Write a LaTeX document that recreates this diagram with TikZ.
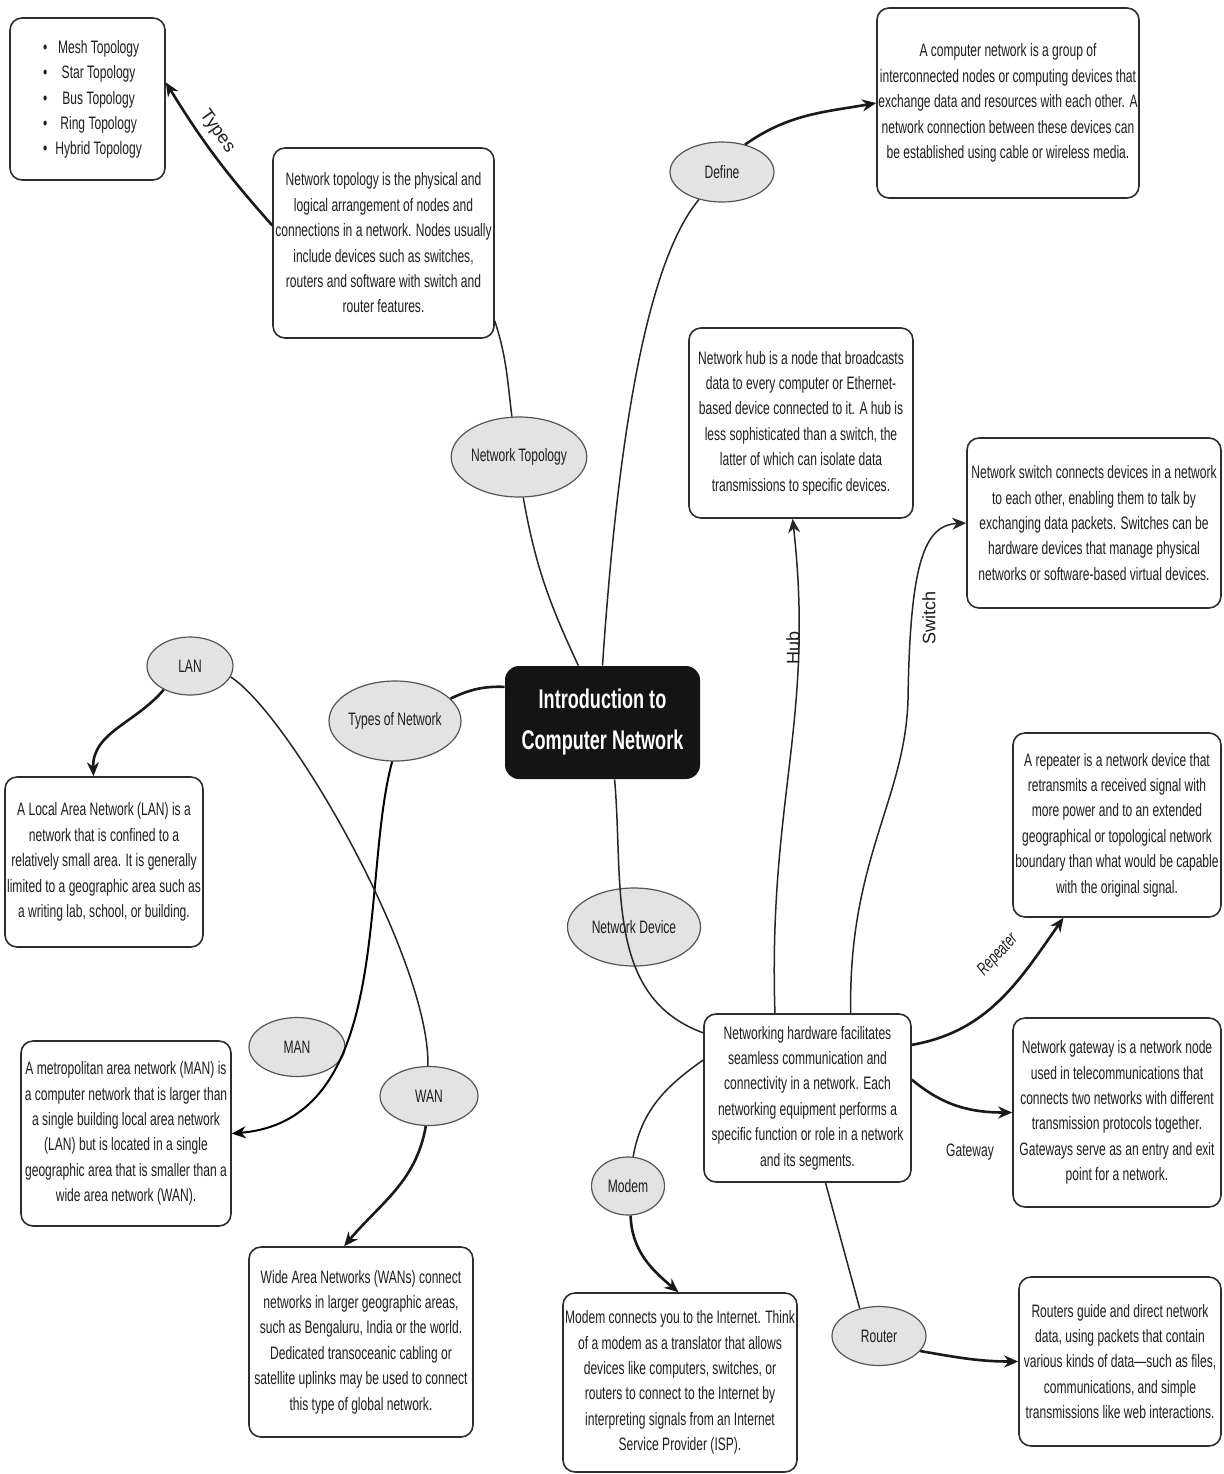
\documentclass[tikz,border=0pt]{standalone}
\usepackage{fontspec}
\setmainfont{Liberation Sans}[FakeStretch=0.67]
\newfontfamily\widefont{Liberation Sans}
\usetikzlibrary{arrows.meta, shapes.geometric}
\newcommand\boxfont{\fontsize{9pt}{12.7pt}\selectfont}
\newcommand\widelbl{\widefont\fontsize{9pt}{11pt}\selectfont}
\definecolor{ovalfill}{HTML}{E3E3E3}
\definecolor{ovalline}{HTML}{555555}
\definecolor{boxline}{HTML}{2E2E2E}
\definecolor{inktext}{HTML}{1E1E1E}

\begin{document}
\begin{tikzpicture}[x=0.5pt,y=0.5pt,
  box/.style={draw=boxline, line width=0.8pt, rounded corners=6pt, fill=white,
    align=center, inner sep=0pt, text=inktext, font=\boxfont},
  oval/.style={ellipse, draw=ovalline, line width=0.6pt, fill=ovalfill,
    inner sep=0pt, text=inktext, font=\boxfont},
  thinline/.style={line width=0.75pt, draw=black!85},
  thickline/.style={line width=1.3pt, draw=black!90},
  tip/.style={-{Stealth[length=7pt,width=6pt]}},
  lbl/.style={text=inktext, font=\boxfont}]
  \fill[white] (0,0) rectangle (1224,-1474);
  \useasboundingbox (0,0) rectangle (1224,-1474);

  \node[fill=black!92, rounded corners=7pt, minimum width=97.5pt, minimum height=56.5pt,
    inner sep=0pt, align=center, text=white, font=\fontsize{13.5pt}{20.5pt}\selectfont\bfseries]
    (root) at (602.5,-722.5) {Introduction to\\Computer Network};

  \foreach \n/\x/\y/\w/\h/\t in {define/722/172/52/30/Define,
      ntopo/519/457/65/40/Network Topology, tnet/395/721/66/40/Types of Network,
      lan/190/666/43/29/LAN, man/297/1047/48/29.5/MAN, wan/429/1096/49/29.5/WAN,
      ndev/634/927/66.5/39/Network Device, modem/628/1186/36.5/29/Modem,
      router/879/1336/47/29.5/Router}
    {\node[oval, minimum width=\w pt, minimum height=\h pt] (\n) at (\x,-\y) {\t};}

  \node[box, minimum width=77.5pt, minimum height=81pt] (tlist) at (87.5,-99)
    {\hspace*{5pt}\begin{tabular}{@{}c@{\hspace{4pt}}c@{}}
      \textbullet & Mesh Topology\\ \textbullet & Star Topology\\
      \textbullet & Bus Topology\\ \textbullet & Ring Topology\\
      \textbullet & Hybrid Topology\end{tabular}};
  \node[box, minimum width=110.5pt, minimum height=95pt] (tdesc) at (383.5,-243)
    {Network topology is the physical and\\ logical arrangement of nodes and\\
     connections in a network. Nodes usually\\ include devices such as switches,\\
     routers and software with switch and\\ router features.};
  \node[box, minimum width=131pt, minimum height=95pt] (ddesc) at (1008,-103)
    {A computer network is a group of\\ interconnected nodes or computing devices that\\
     exchange data and resources with each other. A\\ network connection between these devices can\\
     be established using cable or wireless media.};
  \node[box, minimum width=112pt, minimum height=95pt] (hdesc) at (801,-423)
    {Network hub is a node that broadcasts\\ data to every computer or Ethernet-\\
     based device connected to it. A hub is\\ less sophisticated than a switch, the\\
     latter of which can isolate data\\ transmissions to specific devices.};
  \node[box, minimum width=127pt, minimum height=85pt] (sdesc) at (1094,-523)
    {Network switch connects devices in a network\\ to each other, enabling them to talk by\\
     exchanging data packets. Switches can be\\ hardware devices that manage physical\\
     networks or software-based virtual devices.};
  \node[box, minimum width=104pt, minimum height=92pt] (rdesc) at (1117,-825)
    {A repeater is a network device that\\ retransmits a received signal with\\
     more power and to an extended\\ geographical or topological network\\
     boundary than what would be capable\\ with the original signal.};
  \node[box, minimum width=104pt, minimum height=94.5pt] (gdesc) at (1117,-1112.5)
    {Network gateway is a network node\\ used in telecommunications that\\
     connects two networks with different\\ transmission protocols together.\\
     Gateways serve as an entry and exit\\ point for a network.};
  \node[box, minimum width=101pt, minimum height=84.5pt] (rtdesc) at (1120,-1361.5)
    {Routers guide and direct network\\ data, using packets that contain\\
     various kinds of data---such as files,\\ communications, and simple\\
     transmissions like web interactions.};
  \node[box, minimum width=117pt, minimum height=89.5pt] (mdesc) at (680,-1382.5)
    {Modem connects you to the Internet. Think\\ of a modem as a translator that allows\\
     devices like computers, switches, or\\ routers to connect to the Internet by\\
     interpreting signals from an Internet\\ Service Provider (ISP).};
  \node[box, minimum width=103.5pt, minimum height=84pt] (hw) at (807.5,-1098)
    {Networking hardware facilitates\\ seamless communication and\\
     connectivity in a network. Each\\ networking equipment performs a\\
     specific function or role in a network\\ and its segments.};
  \node[box, minimum width=112pt, minimum height=95pt] (wdesc) at (361,-1342)
    {Wide Area Networks (WANs) connect\\ networks in larger geographic areas,\\
     such as Bengaluru, India or the world.\\ Dedicated transoceanic cabling or\\
     satellite uplinks may be used to connect\\ this type of global network.};
  \node[box, minimum width=105pt, minimum height=92.5pt] (mandesc) at (126,-1133.5)
    {A metropolitan area network (MAN) is\\ a computer network that is larger than\\
     a single building local area network\\ (LAN) but is located in a single\\
     geographic area that is smaller than a\\ wide area network (WAN).};
  \node[box, minimum width=99pt, minimum height=85pt] (landesc) at (104,-862)
    {A Local Area Network (LAN) is a\\ network that is confined to a\\
     relatively small area. It is generally\\ limited to a geographic area such as\\
     a writing lab, school, or building.};

  \node[lbl, font=\widelbl, rotate=90] (hublbl) at (793,-648) {Hub};
  \node[lbl, font=\widelbl, rotate=90] (swlbl) at (929,-618) {Switch};
  \node[lbl, font=\itshape\boxfont, rotate=47] (replbl) at (998,-955) {Repeater};
  \node[lbl] (gwlbl) at (970,-1152) {Gateway};

  \draw[thickline, tip] (tdesc.171) to[bend left=5]
    node[lbl, font=\widelbl, sloped, above, pos=0.62] (typeslbl) {Types} (tlist.12);
  \draw[thinline] (tdesc.-35) to[out=-72, in=97] (ntopo.100);
  \draw[thinline] (ntopo.-84) to[out=-80, in=115] (root.113);
  \draw[thinline] (root.90) .. controls (615,-480) and (640,-270) .. (define.230);
  \draw[thickline, tip] (define.50) to[out=35, in=190] (ddesc.west);
  \draw[thickline] (root.160) to[out=178, in=25] (tnet.22);
  \draw[line width=1pt, tip] (tnet.266) .. controls (360,-880) and (395,-1120) .. (mandesc.east);
  \draw[thinline] (lan.-15) .. controls (290,-715) and (430,-960) .. (wan.92);
  \draw[thickline, tip] (lan.222) to[out=230, in=92] (landesc.97);
  \draw[thickline, tip] (wan.-96) to[out=-100, in=50] (wdesc.100);
  \draw[thinline] (root.-78) to[out=-85, in=160] (hw.148);
  \draw[thinline, tip] (hw.111) .. controls (768,-800) and (815,-720) .. (hdesc.265);
  \draw[thinline, tip] (hw.63) .. controls (848,-860) and (905,-800) .. (908,-700)
    .. controls (910,-560) and (925,-525) .. (sdesc.west);
  \draw[thickline, tip] (hw.27) to[out=10, in=235] (rdesc.-120);
  \draw[thickline, tip] (hw.10) to[out=-40, in=180] (gdesc.west);
  \draw[thinline] (hw.160) to[out=215, in=80] (modem.80);
  \draw[thickline, tip] (modem.-85) to[out=-88, in=140] (mdesc.91);
  \draw[thinline] (hw.-78) -- (router.125);
  \draw[thickline, tip] (router.-20) to[out=-10, in=180] (rtdesc.west);
\end{tikzpicture}
\end{document}
